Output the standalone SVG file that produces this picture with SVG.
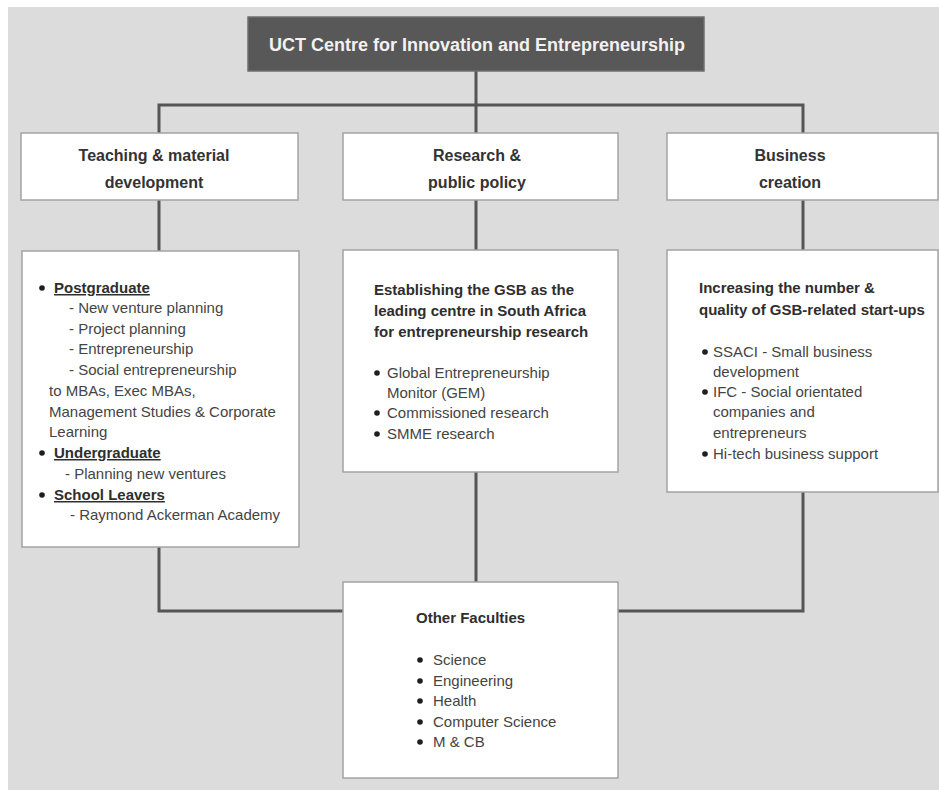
<svg xmlns="http://www.w3.org/2000/svg" width="939" height="790" viewBox="0 0 939 790">
<style>
  .bg { fill: #dcdcdc; }
  .box { fill: #ffffff; stroke: #a3a3a3; stroke-width: 1.5; }
  .topbox { fill: #585858; stroke: #6e6e6e; stroke-width: 1.5; }
  .conn { fill: none; stroke: #555555; stroke-width: 3; }
  text { font-family: "Liberation Sans", Arial, sans-serif; }
  .title { font-size: 18px; font-weight: bold; fill: #f2f2f2; text-anchor: middle; }
  .hdr { font-size: 16px; font-weight: bold; fill: #333333; text-anchor: middle; }
  .b { font-size: 15px; font-weight: bold; fill: #2e2e2e; }
  .t { font-size: 15px; fill: #444444; }
  .u { text-decoration: underline; }
  .dot { fill: #1e1e1e; }
</style>
<rect x="0" y="0" width="939" height="790" fill="#ffffff"/>
<rect class="bg" x="8" y="7" width="931" height="783"/>

<g id="connectors">
  <path class="conn" d="M476 71 V105"/>
  <path class="conn" d="M159 133 V105 H803 V133"/>
  <path class="conn" d="M476 105 V133"/>
  <path class="conn" d="M159 200 V251"/>
  <path class="conn" d="M476 200 V250"/>
  <path class="conn" d="M803 200 V250"/>
  <path class="conn" d="M159 547 V611 H343"/>
  <path class="conn" d="M476 472 V582"/>
  <path class="conn" d="M803 492 V611 H618"/>
</g>

<g id="top">
  <rect class="topbox" x="248" y="17" width="456" height="54"/>
  <text class="title" x="477" y="51">UCT Centre for Innovation and Entrepreneurship</text>
</g>

<g id="teaching">
  <rect class="box" x="21" y="133" width="277" height="67"/>
  <text class="hdr" x="154" y="161">Teaching &amp; material</text>
  <text class="hdr" x="154" y="188">development</text>
</g>

<g id="research">
  <rect class="box" x="343" y="133" width="275" height="67"/>
  <text class="hdr" x="477" y="161">Research &amp;</text>
  <text class="hdr" x="477" y="188">public policy</text>
</g>

<g id="business">
  <rect class="box" x="667" y="133" width="271" height="67"/>
  <text class="hdr" x="790" y="161">Business</text>
  <text class="hdr" x="790" y="188">creation</text>
</g>

<g id="teaching-detail">
  <rect class="box" x="22" y="251" width="277" height="296"/>
  <circle class="dot" cx="42" cy="288" r="2.8"/>
  <text class="b u" x="54" y="293">Postgraduate</text>
  <text class="t" x="69" y="313">- New venture planning</text>
  <text class="t" x="69" y="334">- Project planning</text>
  <text class="t" x="69" y="354">- Entrepreneurship</text>
  <text class="t" x="69" y="375">- Social entrepreneurship</text>
  <text class="t" x="49" y="396">to MBAs, Exec MBAs,</text>
  <text class="t" x="49" y="417">Management Studies &amp; Corporate</text>
  <text class="t" x="49" y="437">Learning</text>
  <circle class="dot" cx="42" cy="453" r="2.8"/>
  <text class="b u" x="54" y="458">Undergraduate</text>
  <text class="t" x="65" y="479">- Planning new ventures</text>
  <circle class="dot" cx="42" cy="495" r="2.8"/>
  <text class="b u" x="54" y="500">School Leavers</text>
  <text class="t" x="70" y="520">- Raymond Ackerman Academy</text>
</g>

<g id="research-detail">
  <rect class="box" x="343" y="250" width="275" height="222"/>
  <text class="b" x="374" y="295">Establishing the GSB as the</text>
  <text class="b" x="374" y="316">leading centre in South Africa</text>
  <text class="b" x="374" y="337">for entrepreneurship research</text>
  <circle class="dot" cx="377" cy="373" r="2.8"/>
  <text class="t" x="387" y="378">Global Entrepreneurship</text>
  <text class="t" x="387" y="398">Monitor (GEM)</text>
  <circle class="dot" cx="377" cy="413" r="2.8"/>
  <text class="t" x="387" y="418">Commissioned research</text>
  <circle class="dot" cx="377" cy="434" r="2.8"/>
  <text class="t" x="387" y="439">SMME research</text>
</g>

<g id="business-detail">
  <rect class="box" x="667" y="250" width="271" height="242"/>
  <text class="b" x="699" y="293">Increasing the number &amp;</text>
  <text class="b" x="699" y="315">quality of GSB-related start-ups</text>
  <circle class="dot" cx="705" cy="352" r="2.8"/>
  <text class="t" x="713" y="357">SSACI - Small business</text>
  <text class="t" x="713" y="377">development</text>
  <circle class="dot" cx="705" cy="392" r="2.8"/>
  <text class="t" x="713" y="397">IFC - Social orientated</text>
  <text class="t" x="713" y="417">companies and</text>
  <text class="t" x="713" y="438">entrepreneurs</text>
  <circle class="dot" cx="705" cy="454" r="2.8"/>
  <text class="t" x="713" y="459">Hi-tech business support</text>
</g>

<g id="other-faculties">
  <rect class="box" x="343" y="582" width="275" height="196"/>
  <text class="b" x="416" y="623">Other Faculties</text>
  <circle class="dot" cx="420" cy="660" r="2.8"/>
  <text class="t" x="433" y="665">Science</text>
  <circle class="dot" cx="420" cy="681" r="2.8"/>
  <text class="t" x="433" y="686">Engineering</text>
  <circle class="dot" cx="420" cy="701" r="2.8"/>
  <text class="t" x="433" y="706">Health</text>
  <circle class="dot" cx="420" cy="722" r="2.8"/>
  <text class="t" x="433" y="727">Computer Science</text>
  <circle class="dot" cx="420" cy="742" r="2.8"/>
  <text class="t" x="433" y="747">M &amp; CB</text>
</g>
</svg>
